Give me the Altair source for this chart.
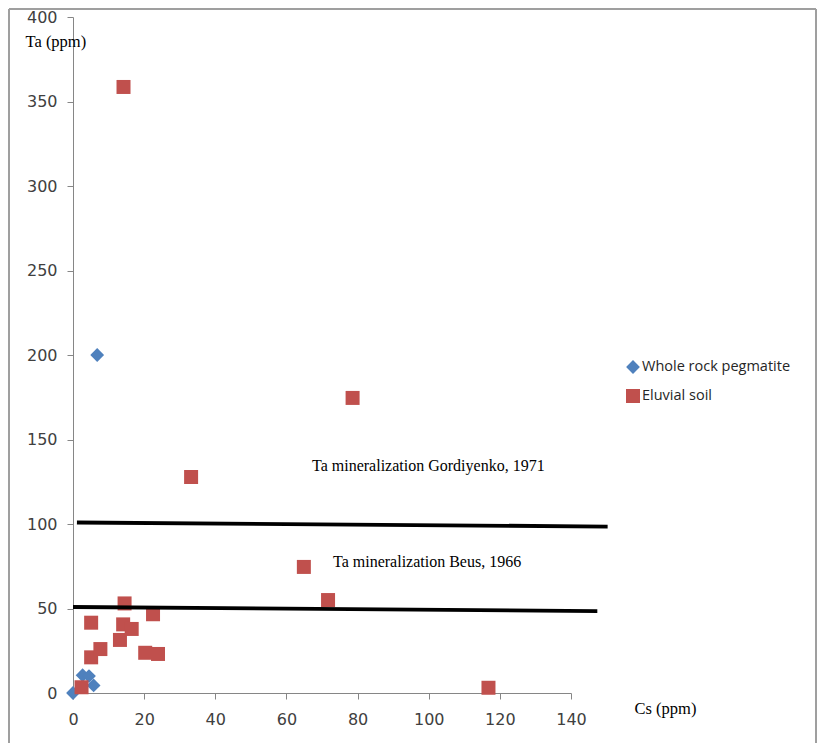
import altair as alt
import pandas as pd

series_names = ["Whole rock pegmatite", "Eluvial soil"]
series_colors = ["#4F81BD", "#C0504D"]
series_shapes = ["diamond", "square"]

pegmatite_cs = [0.0, 2.7, 4.5, 5.8, 6.8]
pegmatite_ta = [0.0, 10.5, 10.0, 4.5, 200.0]

soil_cs = [5.1, 5.1, 7.7, 13.2, 14.1, 14.5, 16.5, 20.3, 22.5, 23.9,
           14.2, 33.2, 64.9, 71.7, 78.6, 116.8, 2.4]
soil_ta = [21.1, 41.6, 26.0, 31.4, 40.6, 53.0, 37.9, 23.8, 46.6, 23.1,
           358.6, 127.8, 74.6, 55.0, 174.6, 3.1, 3.4]

ref_names = ["Ta mineralization Gordiyenko, 1971", "Ta mineralization Beus, 1966"]
ref_cs_start = [1.1, 0.0]
ref_cs_end = [150.3, 147.4]
ref_ta_start = [100.9, 50.9]
ref_ta_end = [98.5, 48.5]
label_cs = [67.2, 73.1]
label_ta = [134.3, 77.5]

x_ticks = [0, 20, 40, 60, 80, 100, 120, 140]
y_ticks = [0, 50, 100, 150, 200, 250, 300, 350, 400]

points = pd.DataFrame({
    "Cs": pegmatite_cs + soil_cs,
    "Ta": pegmatite_ta + soil_ta,
    "series": [series_names[0]] * len(pegmatite_cs) + [series_names[1]] * len(soil_cs),
})
lines = pd.DataFrame({
    "name": ref_names + ref_names,
    "Cs": ref_cs_start + ref_cs_end,
    "Ta": ref_ta_start + ref_ta_end,
})
labels = pd.DataFrame({"name": ref_names, "Cs": label_cs, "Ta": label_ta})

x_scale = alt.Scale(domain=[0, 140], nice=False, zero=False)
y_scale = alt.Scale(domain=[0, 400], nice=False)

legend = alt.Legend(title=None, orient="none", legendX=552, legendY=342,
                    symbolSize=120, labelFont="Open Sans", labelFontSize=14.5,
                    labelColor="#262626", labelOffset=1, rowPadding=14, padding=0)

pts = alt.Chart(points).mark_point(filled=True, opacity=1, strokeWidth=0).encode(
    x=alt.X("Cs:Q", scale=x_scale,
            axis=alt.Axis(values=x_ticks, title="Cs (ppm)", titleX=561, titleY=15,
                          titleAngle=0, titleAlign="left", titleBaseline="middle",
                          labelPadding=12, labelFlush=False)),
    y=alt.Y("Ta:Q", scale=y_scale,
            axis=alt.Axis(values=y_ticks, title="Ta (ppm)", titleX=-48, titleY=24,
                          titleAngle=0, titleAlign="left", titleBaseline="middle",
                          labelPadding=10, labelFlush=False)),
    color=alt.Color("series:N", scale=alt.Scale(domain=series_names, range=series_colors),
                    legend=legend),
    shape=alt.Shape("series:N", scale=alt.Scale(domain=series_names, range=series_shapes),
                    legend=legend),
    size=alt.Size("series:N", scale=alt.Scale(domain=series_names, range=[190, 196]),
                  legend=None),
)

ln = alt.Chart(lines).mark_line(color="black", strokeWidth=3.8).encode(
    x="Cs:Q", y="Ta:Q", detail="name:N")

txt = alt.Chart(labels).mark_text(align="left", baseline="middle", font="Liberation Serif",
                                  fontSize=16, color="black").encode(
    x="Cs:Q", y="Ta:Q", text="name:N")

frame_src = pd.DataFrame({"f": [0]})
frame_style = dict(color="#9f9f9f", strokeWidth=2)
frame_left = alt.Chart(frame_src).mark_rule(**frame_style).encode(
    x=alt.value(-64), y=alt.value(-8), y2=alt.value(728))
frame_top = alt.Chart(frame_src).mark_rule(**frame_style).encode(
    x=alt.value(-64), x2=alt.value(743), y=alt.value(-8))
frame_right = alt.Chart(frame_src).mark_rule(**frame_style).encode(
    x=alt.value(743), y=alt.value(-8), y2=alt.value(728))

chart = alt.layer(frame_left, frame_top, frame_right, pts, ln, txt).properties(
    width=498, height=676,
    autosize=alt.AutoSizeParams(type="none"),
    padding={"left": 65, "top": 9, "right": 246, "bottom": 50},
).configure_view(stroke=None).configure_axis(
    grid=False, domainColor="#868686", tickColor="#868686", tickSize=6,
    labelColor="#404040", labelFont="DejaVu Sans", labelFontSize=16,
    titleFont="Liberation Serif", titleFontSize=16.5, titleFontWeight="normal",
    titleColor="black",
)

chart.save("out.html", embed_options={"renderer": "svg", "actions": False})
